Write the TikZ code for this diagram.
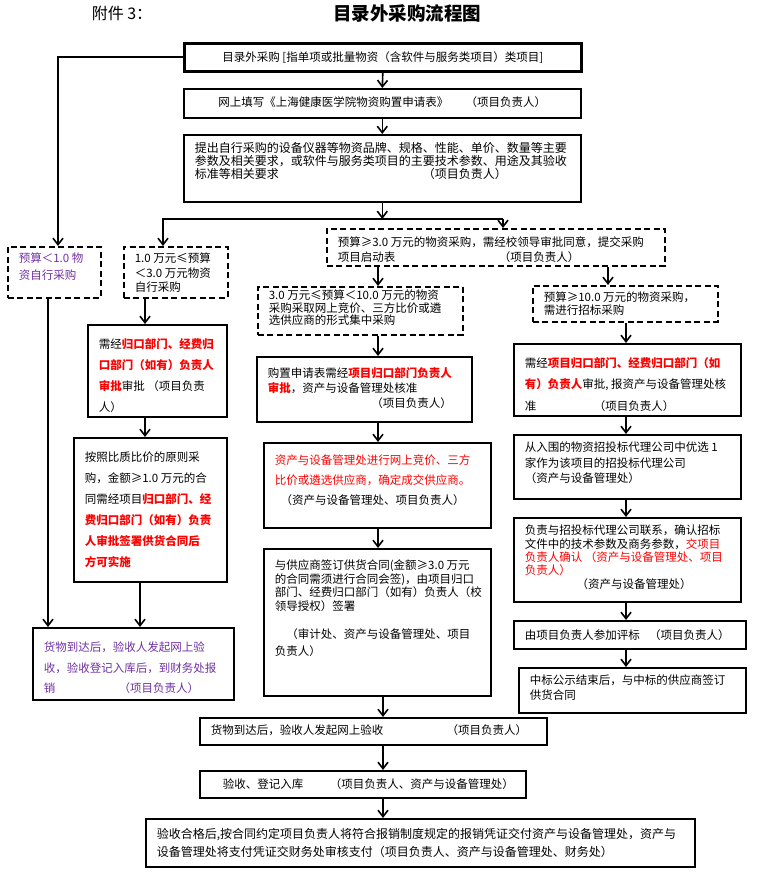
\documentclass[tikz,border=0pt]{standalone}
\usepackage{fontspec}
\setmainfont{Noto Sans CJK SC}
\usetikzlibrary{arrows.meta}
\definecolor{purpletxt}{RGB}{112,48,160}
\newcommand{\redb}[1]{\textcolor{red}{\textbf{#1}}}
% box body: width, height, top pad, line skip, text
\newcommand{\boxtext}[5]{\parbox[c][#2pt][t]{\dimexpr#1pt-22pt\relax}{\setlength{\baselineskip}{#4pt}\raggedright\vspace*{#3pt}#5}}
\begin{document}
\begin{tikzpicture}[x=1pt, y=-1pt,
    stepbox/.style={draw, line width=1.6pt, inner xsep=11pt, inner ysep=0pt, anchor=north west,
      font=\fontsize{11.5}{13}\selectfont},
    dashbox/.style={stepbox, dash pattern=on 6pt off 3.5pt},
    wire/.style={line width=1.6pt},
    arr/.style={wire, -{Straight Barb[length=6.5pt,width=10pt]}}]
  \useasboundingbox (0,0) rectangle (764,875);

  \node[font=\fontsize{16}{16}\selectfont] (att) at (122,13) {附件~3：};
  \node[font=\fontsize{18.5}{19}\selectfont\bfseries] (ttl) at (407,13) {目录外采购流程图};

  % top column
  \node[stepbox, line width=2.6pt] (B1) at (183,42) {\boxtext{397}{28}{8.3}{14}{\centering 目录外采购~[指单项或批量物资（含软件与服务类项目）类项目]}};
  \node[stepbox] (B2) at (183,88) {\boxtext{397}{29}{8.3}{14}{\centering 网上填写《上海健康医学院物资购置申请表》\hspace{1.5em}（项目负责人）}};
  \node[stepbox, font=\fontsize{12}{13}\selectfont] (B3) at (183,134) {\boxtext{397}{67}{8}{13}{提出自行采购的设备仪器等物资品牌、规格、性能、单价、数量等主要\\参数及相关要求，或软件与服务类项目的主要技术参数、用途及其验收\\标准等相关要求\hspace{12em}（项目负责人）}};

  % left column
  \node[dashbox] (L1) at (7,246) {\boxtext{93}{51}{6.3}{17}{\color{purpletxt}预算＜1.0~物\\资自行采购}};
  \node[dashbox] (L2) at (123,246) {\boxtext{104}{51}{6.3}{14.5}{1.0~万元≤预算\\＜3.0~万元物资\\自行采购}};
  \node[stepbox] (L3) at (87,324) {\boxtext{139}{92}{13.3}{21}{需经\redb{归口部门、经费归}\\\redb{口部门（如有）负责人}\\\redb{审批}审批~（项目负责\\人）}};
  \node[stepbox] (L4) at (73,437) {\boxtext{153}{144}{14.3}{21}{按照比质比价的原则采\\购，金额≥1.0~万元的合\\同需经项目\redb{归口部门、经}\\\redb{费归口部门（如有）负责}\\\redb{人审批签署供货合同后}\\\redb{方可实施}}};
  \node[stepbox] (L5) at (32,627) {\boxtext{201}{72}{14.3}{20.5}{\color{purpletxt}货物到达后，验收人发起网上验\\收，验收登记入库后，到财务处报\\销\hspace{5.5em}（项目负责人）}};

  % middle column
  \node[dashbox] (M0) at (326,228) {\boxtext{338}{37}{8.3}{15}{预算≥3.0~万元的物资采购，需经校领导审批同意，提交采购\\项目启动表\hspace{9em}（项目负责人）}};
  \node[dashbox] (M1) at (257,286) {\boxtext{205}{48}{3.3}{12.5}{3.0~万元≤预算＜10.0~万元的物资\\采购采取网上竞价、三方比价或遴\\选供应商的形式集中采购}};
  \node[stepbox] (M2) at (256,356) {\boxtext{215}{65}{10.3}{15}{购置申请表需经\redb{项目归口部门负责人}\\\redb{审批}，资产与设备管理处核准\\\hspace*{9em}（项目负责人）}};
  \node[stepbox] (M3) at (263,442) {\boxtext{227}{85}{12.3}{20}{\color{red}资产与设备管理处进行网上竞价、三方\\比价或遴选供应商，确定成交供应商。\\\color{black}\hspace*{0.5em}（资产与设备管理处、项目负责人）}};
  \node[stepbox] (M4) at (263,548) {\boxtext{227}{147}{11.3}{13.5}{与供应商签订供货合同(金额≥3.0~万元\\的合同需须进行合同会签)，由项目归口\\部门、经费归口部门（如有）负责人（校\\领导授权）签署\\[14.5pt]\hspace*{1em}（审计处、资产与设备管理处、项目\\[3.5pt]负责人）}};

  % right column
  \node[dashbox] (R1) at (532,285) {\boxtext{185}{36}{6.3}{13}{预算≥10.0~万元的物资采购，\\需进行招标采购}};
  \node[stepbox] (R2) at (513,343) {\boxtext{227}{72}{13.3}{21.5}{需经\redb{项目归口部门、经费归口部门（如}\\\redb{有）负责人}审批,~报资产与设备管理处核\\准\hspace{5em}（项目负责人）}};
  \node[stepbox] (R3) at (513,434) {\boxtext{227}{64}{7.3}{15.5}{从入围的物资招投标代理公司中优选~1\\家作为该项目的招投标代理公司\\（资产与设备管理处）}};
  \node[stepbox] (R4) at (513,517) {\boxtext{227}{84}{7.3}{13.3}{负责与招投标代理公司联系，确认招标\\文件中的技术参数及商务参数，\textcolor{red}{交项目}\\\textcolor{red}{负责人确认~（资产与设备管理处、项目}\\\textcolor{red}{负责人）}\\\hspace*{4.5em}（资产与设备管理处）}};
  \node[stepbox] (R5) at (513,620) {\boxtext{232}{28}{9.3}{14}{由项目负责人参加评标\hspace{0.8em}（项目负责人）}};
  \node[stepbox] (R6) at (518,667) {\boxtext{227}{45}{7.3}{15}{中标公示结束后，与中标的供应商签订\\供货合同}};

  % bottom column
  \node[stepbox] (BT1) at (199,717) {\boxtext{347}{27}{7.3}{14}{\mbox{货物到达后，验收人发起网上验收\hspace{5.5em}（项目负责人）}}};
  \node[stepbox] (BT2) at (199,770) {\boxtext{326}{27}{8.3}{14}{\mbox{\hspace*{12pt}验收、登记入库\hspace{2.3em}（项目负责人、资产与设备管理处）}}};
  \node[stepbox, font=\fontsize{12}{17}\selectfont] (BT3) at (145,818) {\boxtext{549}{48}{9.5}{18}{验收合格后,按合同约定项目负责人将符合报销制度规定的报销凭证交付资产与设备管理处，资产与\\设备管理处将支付凭证交财务处审核支付（项目负责人、资产与设备管理处、财务处）}};

  % connector columns
  \coordinate (xA) at (58,0);
  \coordinate (xB) at (48,0);
  \coordinate (xC) at (145,0);
  \coordinate (xD) at (140,0);
  \coordinate (xE) at (378,0);
  \coordinate (xF) at (383,0);
  \coordinate (xG) at (608,0);
  \coordinate (xH) at (626,0);
  \coordinate (jL) at (163,219);
  \coordinate (jR) at (503,219);

  \draw[arr] (B1.south) -- (B2.north);
  \draw[arr] (B2.south) -- (B3.north);
  \draw[arr] (B3.south) -- (B3.south |- jL);
  \draw[arr] (jR) -- (jL) -- (jL |- L2.north);
  \draw[arr] (jR) -- (jR |- M0.north);
  \draw[arr] (B1.west) -| (xA |- L1.north);

  \draw[arr] (L2.south -| xC) -- (L3.north -| xC);
  \draw[arr] (L3.south -| xC) -- (L4.north -| xC);
  \draw[arr] (L4.south -| xD) -- (L5.north -| xD);
  \draw[arr] (L1.south -| xB) -- (L5.north -| xB);

  \draw[arr] (M0.south -| xE) -- (M1.north -| xE);
  \draw[arr] (M1.south -| xE) -- (M2.north -| xE);
  \draw[arr] (M2.south -| xE) -- (M3.north -| xE);
  \draw[arr] (M3.south -| xE) -- (M4.north -| xE);
  \draw[arr] (M4.south -| xF) -- (BT1.north -| xF);
  \draw[arr] (BT1.south -| xF) -- (BT2.north -| xF);
  \draw[arr] (BT2.south -| xF) -- (BT3.north -| xF);

  \draw[arr] (M0.south -| xG) -- (R1.north -| xG);
  \draw[arr] (R1.south -| xH) -- (R2.north -| xH);
  \draw[arr] (R2.south -| xH) -- (R3.north -| xH);
  \draw[arr] (R3.south -| xH) -- (R4.north -| xH);
  \draw[arr] (R4.south -| xH) -- (R5.north -| xH);
  \draw[arr] (R5.south -| xH) -- (R6.north -| xH);
\end{tikzpicture}
\end{document}
